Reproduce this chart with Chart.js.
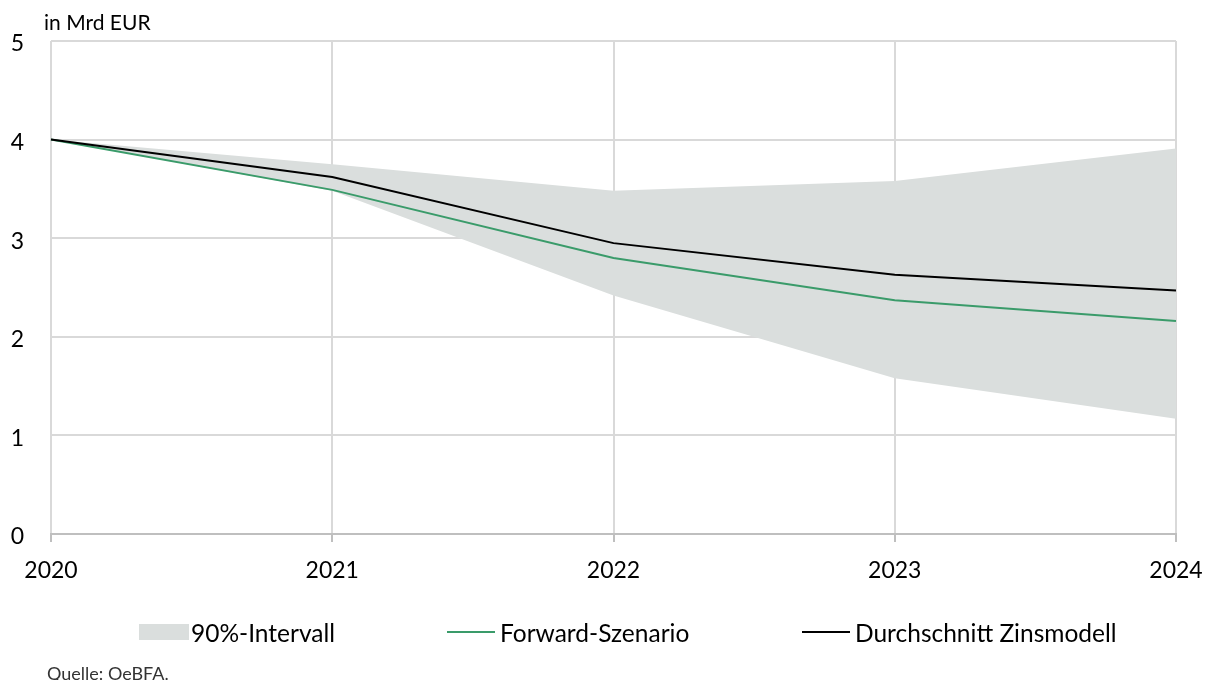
<!DOCTYPE html>
<html>
<head>
<meta charset="utf-8">
<script src="https://cdn.jsdelivr.net/npm/chart.js@4/dist/chart.umd.min.js"></script>
<style>
  html, body { margin: 0; padding: 0; background: #fff; }
  #wrap { position: relative; width: 1212px; height: 680px; font-family: Lato, "Open Sans", sans-serif; color: #000; }
  #c { position: absolute; left: 0; top: 0; }
  .txt { position: absolute; white-space: nowrap; line-height: 1; }
  .leg-item { position: absolute; display: flex; align-items: center; height: 24px; }
  .sym { display: inline-block; }
</style>
</head>
<body>
<div id="wrap">
  <canvas id="c" width="1212" height="680"></canvas>
  <div class="txt" id="unit" style="left:44px; top:11px; font-size:21px;">in Mrd EUR</div>
  <div id="legend"></div>
  <div class="txt" id="source" style="left:47px; top:664px; font-size:18px; color:#333;">Quelle: OeBFA.</div>
</div>
<script>
// ---- data ----
const years = ['2020', '2021', '2022', '2023', '2024'];
const durchschnittZinsmodell = [4.00, 3.62, 2.95, 2.63, 2.47];
const forwardSzenario = [4.00, 3.49, 2.80, 2.37, 2.16];
const intervallOben = [4.00, 3.75, 3.48, 3.58, 3.91];
const intervallUnten = [4.00, 3.48, 2.42, 1.58, 1.17];
const yTicks = [0, 1, 2, 3, 4, 5];

const bandColor = '#dadedd';
const greenColor = '#3a9b6a';
const blackColor = '#000000';
const gridColor = '#d9d9d9';
const FONT = 'Lato, "Open Sans", sans-serif';

const chart = new Chart(document.getElementById('c'), {
  type: 'line',
  data: {
    labels: years,
    datasets: [
      { label: 'Durchschnitt Zinsmodell', data: durchschnittZinsmodell, borderColor: blackColor, borderWidth: 2, pointRadius: 0, fill: false, tension: 0, order: 0 },
      { label: 'Forward-Szenario', data: forwardSzenario, borderColor: greenColor, borderWidth: 2, pointRadius: 0, fill: false, tension: 0, order: 1 },
      { label: '90%-Intervall', data: intervallOben, borderColor: bandColor, backgroundColor: bandColor, borderWidth: 0, pointRadius: 0, fill: '+1', tension: 0, order: 2 },
      { label: '90%-Intervall unten', data: intervallUnten, borderColor: bandColor, backgroundColor: bandColor, borderWidth: 0, pointRadius: 0, fill: false, tension: 0, order: 3 }
    ]
  },
  options: {
    responsive: false,
    animation: false,
    devicePixelRatio: 1,
    layout: { padding: { left: 0, right: 36, top: 41, bottom: 96 } },
    plugins: { legend: { display: false }, tooltip: { enabled: false } },
    scales: {
      x: {
        type: 'category',
        offset: false,
        grid: { color: gridColor, lineWidth: 2, drawTicks: true, tickLength: 8, tickColor: '#bfbfbf' },
        border: { display: true, color: '#bfbfbf', width: 2 },
        ticks: { color: '#000', font: { family: FONT, size: 23 }, padding: 15, maxRotation: 0, autoSkip: false },
        afterFit: s => { s.height = 50; s.paddingLeft = 0; s.paddingRight = 0; }
      },
      y: {
        min: 0, max: 5,
        afterBuildTicks: s => { s.ticks = yTicks.map(v => ({ value: v })); },
        grid: { color: gridColor, lineWidth: 2, drawTicks: false },
        border: { display: false },
        ticks: { color: '#000', font: { family: FONT, size: 23 }, padding: 27, labelOffset: 3 },
        afterFit: s => { s.width = 51; s.paddingTop = 0; s.paddingBottom = 0; }
      }
    }
  }
});

// ---- legend (HTML, built from the chart's datasets) ----
const legendEntries = [
  { ds: 2, kind: 'box', symLeft: 139, symWidth: 50 },
  { ds: 1, kind: 'line', symLeft: 447, symWidth: 48 },
  { ds: 0, kind: 'line', symLeft: 802, symWidth: 48 }
];
const legendEl = document.getElementById('legend');
legendEntries.forEach(e => {
  const d = chart.data.datasets[e.ds];
  const item = document.createElement('div');
  item.className = 'leg-item';
  item.style.left = e.symLeft + 'px';
  item.style.top = '620px';
  const sym = document.createElement('span');
  sym.className = 'sym';
  sym.style.width = e.symWidth + 'px';
  if (e.kind === 'box') {
    sym.style.height = '16px';
    sym.style.background = d.backgroundColor;
  } else {
    sym.style.height = '2px';
    sym.style.background = d.borderColor;
  }
  const t = document.createElement('span');
  t.textContent = d.label;
  t.style.fontSize = '24.5px';
  t.style.marginLeft = (e.kind === 'box' ? 2 : 5) + 'px';
  item.appendChild(sym);
  item.appendChild(t);
  legendEl.appendChild(item);
});
</script>
</body>
</html>
